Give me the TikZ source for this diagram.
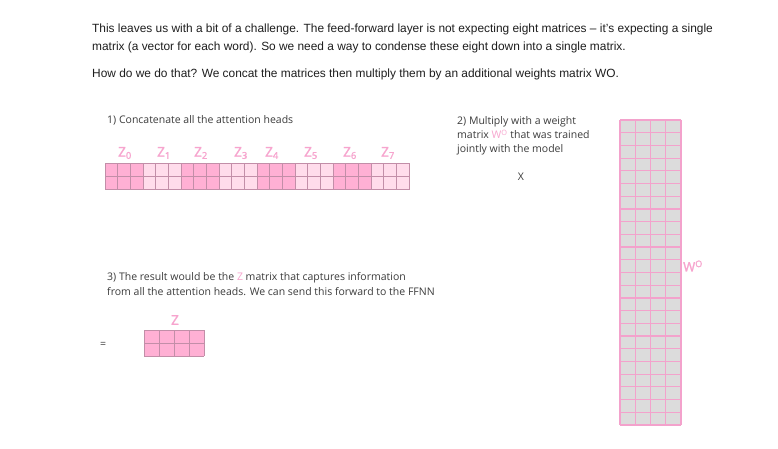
\documentclass[tikz,border=0pt]{standalone}
\usepackage{fontspec}
\setmainfont{Liberation Sans}
\newfontfamily\slidefont{Open Sans}
\newfontfamily\labelfont[FakeBold=1.6]{Open Sans}
\usetikzlibrary{positioning}

\definecolor{headpink}{HTML}{FFB0D4}
\definecolor{headlight}{HTML}{FFDCEB}
\definecolor{cellline}{HTML}{C28EA8}
\definecolor{labelpink}{HTML}{F7A4CE}
\definecolor{wfill}{HTML}{DCDCDC}
\definecolor{wline}{HTML}{F3A2CC}
\definecolor{slidegray}{HTML}{3C3C3C}
\definecolor{bodyblack}{HTML}{1E1E1E}

\begin{document}
\begin{tikzpicture}[x=1pt, y=-1pt,
  body/.style={anchor=base west, inner sep=0pt, text=bodyblack, font=\fontsize{11.9}{14}\selectfont},
  slide/.style={anchor=base west, inner sep=0pt, text=slidegray, font=\slidefont\fontsize{10.5}{12}\selectfont},
  headlabel/.style={inner sep=0pt, text=labelpink, font=\labelfont\fontsize{13.5}{14}\selectfont}]
  \useasboundingbox[fill=white] (0,0) rectangle (778,449);

  % Paragraph text
  \node[body] (line1) at (92,33) {This leaves us with a bit of a challenge. The feed-forward layer is not expecting eight matrices -- it's expecting a single};
  \node[body] (line2) at (92,51) {matrix (a vector for each word). So we need a way to condense these eight down into a single matrix.};
  \node[body] (line3) at (92,78) {How do we do that? We concat the matrices then multiply them by an additional weights matrix WO.};

  % Step 1: concatenate the heads
  \node[slide] (step1) at (107,124) {1) Concatenate all the attention heads};
  \foreach \h/\col in {0/headpink,1/headlight,2/headpink,3/headlight,4/headpink,5/headlight,6/headpink,7/headlight}
    \fill[\col] ({105+38*\h},163.5) rectangle ++(38,26);
  \foreach \i in {0,...,24}
    \draw[cellline, line width=0.6pt] ({105+\i*38/3},163.5) -- ++(0,26);
  \foreach \j in {0,1,2}
    \draw[cellline, line width=0.6pt] (105,{163.5+13*\j}) -- (409,{163.5+13*\j});
  \foreach \h/\x in {0/125,1/164,2/201,3/241,4/272,5/311,6/350,7/388}
    \node[headlabel] (z\h) at (\x,153) {Z\textsubscript{\h}};

  % Step 2: weight matrix
  \node[slide] (step2a) at (457,125) {2) Multiply with a weight};
  \node[slide] (step2b) at (457,139) {matrix \textcolor{labelpink}{W\textsuperscript{O}} that was trained};
  \node[slide] (step2c) at (457,153) {jointly with the model};
  \node[slide, anchor=center] (times) at (521,177) {X};
  \fill[wfill] (620,120) rectangle (681,425);
  \foreach \i in {0,...,4}
    \draw[wline, line width=1.2pt] ({620+\i*15.25},120) -- ++(0,305);
  \foreach \j in {0,...,24}
    \draw[wline, line width=1.2pt] (620,{120+\j*305/24}) -- (681,{120+\j*305/24});
  \node[headlabel, anchor=west, font=\labelfont\fontsize{13}{13}\selectfont] (wo) at (683,266) {W\textsuperscript{O}};

  % Step 3: result
  \node[slide] (step3a) at (107,280) {3) The result would be the \textcolor{labelpink}{Z} matrix that captures information};
  \node[slide] (step3b) at (107,295) {from all the attention heads. We can send this forward to the FFNN};
  \node[slide, anchor=center] (equals) at (103,345) {=};
  \fill[headpink] (144,330) rectangle (204,356);
  \foreach \i in {0,...,4}
    \draw[cellline, line width=0.6pt] ({144+\i*15},330) -- ++(0,26);
  \foreach \j in {0,1,2}
    \draw[cellline, line width=0.6pt] (144,{330+13*\j}) -- (204,{330+13*\j});
  \node[headlabel] (zres) at (175,320) {Z};
\end{tikzpicture}
\end{document}
